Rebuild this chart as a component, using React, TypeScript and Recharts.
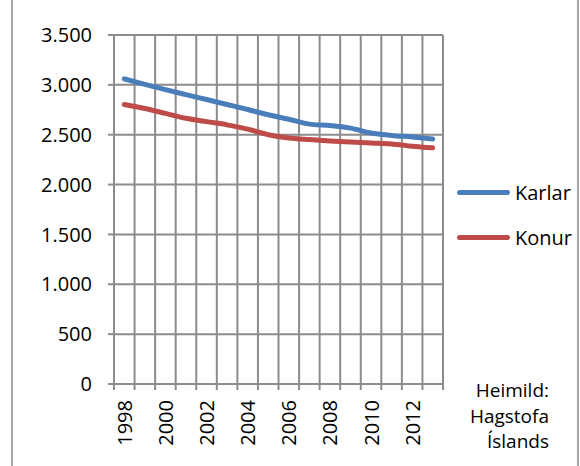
import React from "react";
import {
    LineChart,
    Line,
    XAxis,
    YAxis,
    CartesianGrid,
} from "recharts";

const years = [
    1998, 1999, 2000, 2001, 2002, 2003, 2004, 2005,
    2006, 2007, 2008, 2009, 2010, 2011, 2012, 2013,
];
const karlar = [
    3060, 3005, 2952, 2902, 2853, 2803, 2753, 2700,
    2655, 2606, 2592, 2566, 2517, 2493, 2477, 2458,
];
const konur = [
    2803, 2763, 2714, 2665, 2631, 2599, 2556, 2500,
    2467, 2451, 2438, 2428, 2418, 2408, 2385, 2369,
];
const yTicks = [0, 500, 1000, 1500, 2000, 2500, 3000, 3500];
const labelYears = [1998, 2000, 2002, 2004, 2006, 2008, 2010, 2012];
const sourceLines = ["Heimild:", "Hagstofa", "Íslands"];
const series = [
    { name: "Karlar", color: "#4a7ebb" },
    { name: "Konur", color: "#be4b48" },
];

const data = years.map((year, i) => ({
    year,
    Karlar: karlar[i],
    Konur: konur[i],
}));

// category boundaries, so the grid falls between the years like in Excel
const boundaries = years.map((y) => y - 0.5).concat(years[years.length - 1] + 0.5);
const domain: [number, number] = [boundaries[0], boundaries[boundaries.length - 1]];

const FONT = "'Open Sans', sans-serif";
const GRID = "#8c8c8c";

const fmt = (v: number) => v.toLocaleString("de-DE");

const YearTick = (props: any) => {
    const { x, y, payload } = props;
    return (
        <text
            x={x}
            y={y}
            transform={`rotate(-90, ${x}, ${y})`}
            textAnchor="end"
            dominantBaseline="central"
            fontFamily={FONT}
            fontSize={20}
            fill="#000"
        >
            {payload.value}
        </text>
    );
};

export default function App() {
    return (
        <div
            style={{
                position: "fixed",
                left: 0,
                top: 0,
                width: 580,
                height: 466,
                background: "#fff",
            }}
        >
            <div style={{ position: "absolute", left: 11, top: 0, width: 2, height: 466, background: "#a6a6a6" }} />
            <div style={{ position: "absolute", left: 577, top: 0, width: 2, height: 466, background: "#a6a6a6" }} />

            <LineChart
                width={580}
                height={466}
                data={data}
                margin={{ top: 35, right: 137, left: 0, bottom: 0 }}
            >
                <CartesianGrid
                    xAxisId="grid"
                    stroke={GRID}
                    strokeWidth={2}
                />
                <XAxis
                    xAxisId="grid"
                    dataKey="year"
                    type="number"
                    domain={domain}
                    ticks={boundaries}
                    interval={0}
                    height={6}
                    tickSize={6}
                    tick={() => <g />}
                    axisLine={{ stroke: GRID, strokeWidth: 2 }}
                    tickLine={{ stroke: GRID, strokeWidth: 2 }}
                />
                <XAxis
                    xAxisId="labels"
                    dataKey="year"
                    type="number"
                    domain={domain}
                    ticks={labelYears}
                    interval={0}
                    height={76}
                    tickSize={0}
                    tickMargin={10}
                    axisLine={false}
                    tickLine={false}
                    tick={<YearTick />}
                />
                <YAxis
                    width={114}
                    domain={[0, 3500]}
                    ticks={yTicks}
                    interval={0}
                    tickFormatter={fmt}
                    tickSize={6}
                    tickMargin={16}
                    axisLine={{ stroke: GRID, strokeWidth: 2 }}
                    tickLine={{ stroke: GRID, strokeWidth: 2 }}
                    tick={{ fontFamily: FONT, fontSize: 20, fill: "#000" }}
                />
                {series.map((s) => (
                    <Line
                        key={s.name}
                        xAxisId="grid"
                        type="monotone"
                        dataKey={s.name}
                        stroke={s.color}
                        strokeWidth={5}
                        strokeLinecap="round"
                        dot={false}
                        isAnimationActive={false}
                    />
                ))}
            </LineChart>

            <div
                style={{
                    position: "absolute",
                    left: 457,
                    top: 177,
                    fontFamily: FONT,
                    fontSize: 20,
                    color: "#000",
                }}
            >
                {series.map((s, i) => (
                    <div
                        key={s.name}
                        style={{
                            display: "flex",
                            alignItems: "center",
                            height: 30,
                            marginTop: i === 0 ? 0 : 15,
                        }}
                    >
                        <div
                            style={{
                                width: 53,
                                height: 5,
                                borderRadius: 3,
                                background: s.color,
                                marginRight: 5,
                            }}
                        />
                        <span>{s.name}</span>
                    </div>
                ))}
            </div>

            <div
                style={{
                    position: "absolute",
                    right: 580 - 549,
                    top: 378,
                    textAlign: "right",
                    fontFamily: FONT,
                    fontSize: 19,
                    lineHeight: "25.5px",
                    color: "#000",
                }}
            >
                {sourceLines.map((line) => (
                    <div key={line}>{line}</div>
                ))}
            </div>
        </div>
    );
}
